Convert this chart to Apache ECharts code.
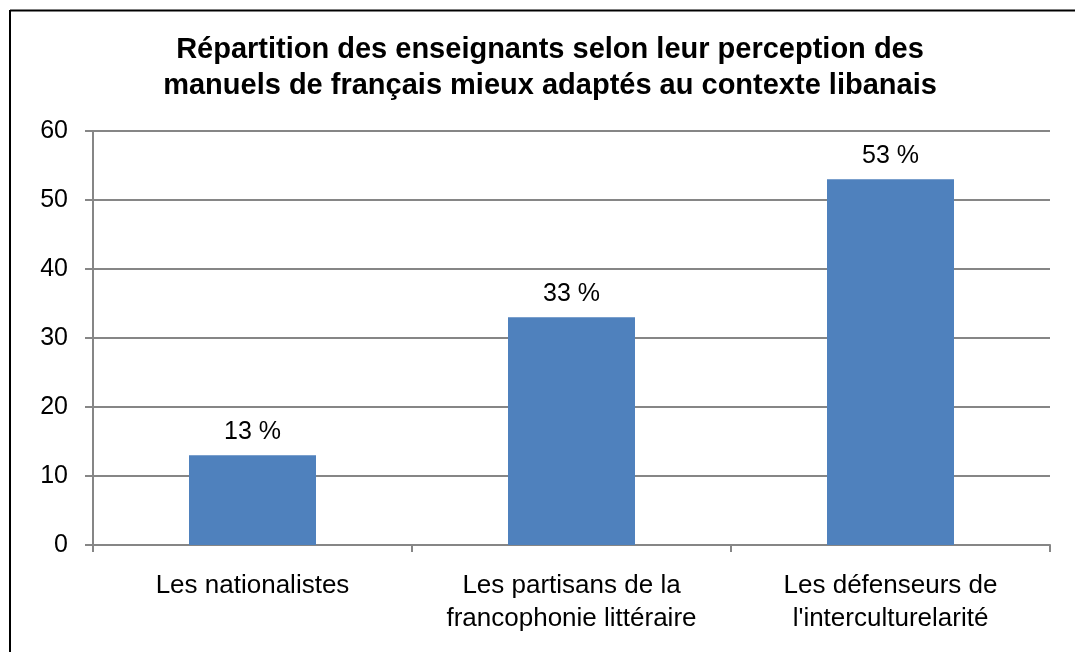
<!DOCTYPE html>
<html>
<head>
    <meta charset="UTF-8">
    <title>Répartition des enseignants</title>
    <script type="text/javascript" src="https://cdn.jsdelivr.net/npm/echarts@6/dist/echarts.min.js"></script>
    <style>
        html, body { margin: 0; padding: 0; background: #fff; }
        #chart { width: 1075px; height: 652px; }
    </style>
</head>
<body>
<div id="chart"></div>
<script>
    var categories = ['Les nationalistes', 'Les partisans de la\nfrancophonie littéraire', 'Les défenseurs de\nl\'interculturelarité'];
    var values = [13, 33, 53];
    var labels = ['13 %', '33 %', '53 %'];

    var myChart = echarts.init(document.getElementById('chart'));
    myChart.setOption({
        animation: false,
        textStyle: { fontFamily: 'Liberation Sans, Arial, sans-serif' },
        title: {
            text: 'Répartition des enseignants selon leur perception des\nmanuels de français mieux adaptés au contexte libanais',
            left: 545,
            top: 27,
            textAlign: 'center',
            textStyle: {
                fontSize: 29,
                fontWeight: 'bold',
                color: '#000',
                lineHeight: 36,
                fontFamily: 'Liberation Sans, Arial, sans-serif'
            }
        },
        graphic: [
            { type: 'line', shape: { x1: 10, y1: 10.5, x2: 1075, y2: 10.5 }, style: { stroke: '#000', lineWidth: 2 } },
            { type: 'line', shape: { x1: 10, y1: 10, x2: 10, y2: 652 }, style: { stroke: '#000', lineWidth: 2 } }
        ],
        grid: {
            left: 93,
            right: 25,
            top: 131,
            bottom: 107
        },
        xAxis: {
            type: 'category',
            data: categories,
            axisLine: { lineStyle: { color: '#868686', width: 2 } },
            axisTick: { show: true, length: 7, alignWithLabel: false, lineStyle: { color: '#868686', width: 2 } },
            axisLabel: {
                color: '#000',
                fontSize: 26,
                lineHeight: 33,
                margin: 24,
                interval: 0
            }
        },
        yAxis: {
            type: 'value',
            min: 0,
            max: 60,
            interval: 10,
            axisLine: { show: true, lineStyle: { color: '#868686', width: 2 } },
            axisTick: { show: true, length: 8, lineStyle: { color: '#868686', width: 2 } },
            splitLine: { lineStyle: { color: '#868686', width: 2 } },
            axisLabel: { color: '#000', fontSize: 25, margin: 25 }
        },
        series: [{
            type: 'bar',
            data: values,
            barWidth: 127,
            itemStyle: { color: '#4F81BD' },
            label: {
                show: true,
                position: 'top',
                distance: 11,
                color: '#000',
                fontSize: 25,
                formatter: function (p) { return labels[p.dataIndex]; }
            }
        }]
    });
</script>
</body>
</html>
